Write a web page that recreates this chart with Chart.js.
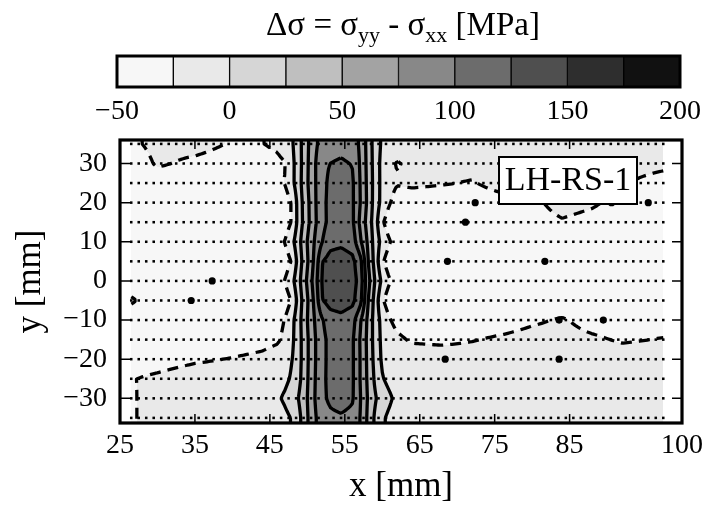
<!DOCTYPE html>
<html lang="en">
<head>
<meta charset="UTF-8">
<title>LH-RS-1 stress difference map</title>
<script src="https://cdn.jsdelivr.net/npm/chart.js"></script>
<style>
  body { margin: 0; background: #fff; }
  .wrap { position: relative; width: 709px; height: 508px; }
  .wrap canvas { position: absolute; left: 0; top: 0; }
</style>
</head>
<body>
<div class="wrap">
  <canvas id="map" width="709" height="508"></canvas>
  <canvas id="cb" width="709" height="130"></canvas>
</div>
<script>
  const fontFam = "'Liberation Serif', 'Times New Roman', serif";

  // colour scale: 25 MPa bands from -50 to 200
  const levelEdges = [-50, -25, 0, 25, 50, 75, 100, 125, 150, 175, 200];
  const levelGrays = ['#f7f7f7', '#e9e9e9', '#d6d6d6', '#bfbfbf', '#a3a3a3',
                      '#888888', '#6c6c6c', '#4f4f4f', '#2e2e2e', '#111111'];
  const cbTicks = [-50, 0, 50, 100, 150, 200];

  // contour lines (negative ones dashed)
  const contourLevels = [-25, 0, 25, 50, 75, 100, 125];

  // axes
  const xTicks = [25, 35, 45, 55, 65, 75, 85, 100];
  const yTicks = [-30, -20, -10, 0, 10, 20, 30];

  // estimated delta sigma [MPa] read from the map, rows = gridY, columns = gridX
  const gridX = [26.5, 30, 35, 40, 44, 46, 47, 48, 49, 50, 51, 52, 53, 54.5, 56,
                 57, 58, 59, 60, 61, 62, 64, 68, 72, 76, 80, 84, 88, 92, 97.5];
  const gridY = [35, 30, 25, 20, 15, 10, 5, 0, -5, -10, -15, -20, -25, -30, -35];
  const dsRows = [
    [-30, -18, -17, -27, -25.5, -21, -15, -2, 20, 46, 70, 84, 90, 93, 88, 72, 44, 14, -4, -14, -18, -16, -15, -16, -15, -15, -15, -16, -18, -22],
    [-40, -22, -30, -36, -34, -30, -26, -6, 19, 47, 73, 92, 100, 103, 99, 74, 45, 15, -8, -22, -26, -22, -20, -20, -18, -18, -16, -18, -20, -22],
    [-40, -38, -40, -40, -38, -33, -24, -6, 20, 48, 73, 91, 106, 112, 104, 76, 46, 16, -8, -20, -24, -22, -24, -26, -20, -20, -14, -17, -24, -30],
    [-40, -40, -40, -40, -38, -40, -38, -22, 16, 44, 72, 93, 107, 113, 104, 77, 47, 15, -8, -24, -32, -34, -34, -32, -30, -30, -17, -22, -32, -35],
    [-40, -40, -40, -40, -38, -40, -38, -22, 15, 43, 71, 92, 107, 114, 105, 72, 42, 12, -22, -38, -38, -37, -38, -36, -36, -34, -27, -32, -36, -38],
    [-40, -40, -40, -40, -38, -33, -24, -6, 22, 51, 77, 100, 117, 120, 114, 81, 49, 15, -8, -24, -32, -37, -38, -38, -38, -38, -38, -38, -38, -38],
    [-40, -40, -40, -40, -38, -40, -38, -22, 17, 47, 82, 124, 134, 137, 131, 112, 55, 17, -22, -38, -38, -37, -38, -38, -38, -38, -38, -38, -38, -38],
    [-38, -40, -40, -40, -38, -33, -24, -6, 23, 54, 88, 128, 137, 140, 134, 118, 63, 25, -6, -24, -33, -37, -38, -38, -38, -38, -38, -38, -38, -38],
    [-22, -38, -40, -40, -38, -40, -38, -22, 17, 47, 82, 124, 134, 137, 131, 112, 55, 17, -22, -38, -38, -37, -38, -38, -38, -38, -38, -38, -38, -38],
    [-38, -40, -40, -40, -38, -33, -24, -6, 21, 50, 76, 98, 114, 118, 111, 80, 48, 15, -8, -24, -30, -34, -36, -36, -34, -28, -23, -32, -35, -34],
    [-38, -38, -38, -36, -32, -28, -20, -4, 20, 47, 73, 93, 107, 113, 104, 75, 46, 16, -6, -18, -22, -27, -29, -26, -22, -18, -18, -22, -27, -24],
    [-36, -34, -28, -24, -20, -15, -12, 0, 20, 47, 73, 93, 107, 113, 104, 76, 47, 18, -4, -14, -18, -16, -15, -16, -15, -15, -16, -15, -16, -17],
    [-26, -21, -14, -13, -12, -10, -6, 4, 22, 48, 74, 94, 107, 113, 104, 76, 48, 22, 2, -8, -14, -13, -12, -13, -12, -12, -13, -12, -14, -14],
    [-28, -14, -12, -12, -10, -4, 4, 14, 28, 50, 75, 95, 104, 110, 103, 78, 50, 28, 14, 4, -8, -12, -12, -12, -12, -12, -12, -12, -12, -14],
    [-28, -14, -12, -12, -12, -12, -6, 2, 22, 48, 72, 88, 95, 97, 93, 76, 48, 22, 4, -6, -12, -13, -12, -12, -12, -12, -12, -12, -12, -14]
  ];

  // measurement grid
  const measX = [26.5, 27.5, 28.5, 29.5, 30.5, 31.5, 32.5, 33.5, 34.5, 35.5, 36.5, 37.5,
                 38.5, 39.5, 40.5, 41.5, 42.5, 43.5, 44.5, 45.5, 46.5, 47.5, 48.5, 49.5,
                 50.5, 51.5, 52.5, 53.5, 54.5, 55.5, 56.5, 57.5, 58.5, 59.5, 60.5, 61.5,
                 62.5, 63.5, 64.5, 65.5, 66.5, 67.5, 68.5, 69.5, 70.5, 71.5, 72.5, 73.5,
                 74.5, 75.5, 76.5, 77.5, 78.5, 79.5, 80.5, 81.5, 82.5, 83.5, 84.5, 85.5,
                 86.5, 87.5, 88.5, 89.5, 90.5, 91.5, 92.5, 93.5, 94.5, 95.5, 96.5, 97.5];
  const measY = [35, 30, 25, 20, 15, 10, 5, 0, -5, -10, -15, -20, -25, -30, -35];

  // single points above -25 MPa (tiny closed contours)
  const spotX = [37.3, 34.5, 72.4, 71.1, 68.7, 81.7, 90.6, 95.5, 83.6, 89.5, 83.6, 68.4];
  const spotY = [0, -5, 20, 15, 5, 5, 20, 20, -10, -10, -20, -20];

  const measPoints = [];
  measY.forEach(y => measX.forEach(x => measPoints.push({x, y})));
  const spots = spotX.map((x, i) => ({x, y: spotY[i]}));

  function fieldAt(x, y) {
    const n = gridX.length;
    if (x < gridX[0] || x > gridX[n - 1]) return null;
    let i = 0;
    while (i < n - 2 && x > gridX[i + 1]) i++;
    const tx = (x - gridX[i]) / (gridX[i + 1] - gridX[i]);
    const yc = Math.max(Math.min(y, gridY[0]), gridY[gridY.length - 1]);
    let j = 0;
    while (j < gridY.length - 2 && yc < gridY[j + 1]) j++;
    const ty = (gridY[j] - yc) / (gridY[j] - gridY[j + 1]);
    const r0 = dsRows[j], r1 = dsRows[j + 1];
    const a = r0[i] + (r0[i + 1] - r0[i]) * tx;
    const b = r1[i] + (r1[i + 1] - r1[i]) * tx;
    return a + (b - a) * ty;
  }

  // marching squares, segments chained into polylines
  function traceContours(G, nx, ny, level, toPx) {
    const pts = new Map(), adj = new Map(), segs = [];
    const edge = (key, i0, j0, i1, j1) => {
      if (!pts.has(key)) {
        const a = G[j0 * nx + i0], b = G[j1 * nx + i1];
        const t = (level - a) / (b - a);
        pts.set(key, toPx(i0 + (i1 - i0) * t, j0 + (j1 - j0) * t));
      }
      return key;
    };
    for (let j = 0; j < ny - 1; j++) {
      for (let i = 0; i < nx - 1; i++) {
        const tl = G[j * nx + i], tr = G[j * nx + i + 1];
        const br = G[(j + 1) * nx + i + 1], bl = G[(j + 1) * nx + i];
        const e = [];
        if ((tl >= level) !== (tr >= level)) e.push(edge('h' + i + '_' + j, i, j, i + 1, j));
        if ((tr >= level) !== (br >= level)) e.push(edge('v' + (i + 1) + '_' + j, i + 1, j, i + 1, j + 1));
        if ((bl >= level) !== (br >= level)) e.push(edge('h' + i + '_' + (j + 1), i, j + 1, i + 1, j + 1));
        if ((tl >= level) !== (bl >= level)) e.push(edge('v' + i + '_' + j, i, j, i, j + 1));
        if (e.length === 2) segs.push([e[0], e[1]]);
        else if (e.length === 4) {
          const c = (tl + tr + br + bl) / 4;
          if ((c >= level) === (tl >= level)) { segs.push([e[0], e[1]]); segs.push([e[2], e[3]]); }
          else { segs.push([e[0], e[3]]); segs.push([e[1], e[2]]); }
        }
      }
    }
    segs.forEach((s, k) => s.forEach(key => {
      if (!adj.has(key)) adj.set(key, []);
      adj.get(key).push(k);
    }));
    const used = new Array(segs.length).fill(false);
    const lines = [];
    const walk = (k, key) => {
      const line = [pts.get(key)];
      while (k !== undefined && !used[k]) {
        used[k] = true;
        key = segs[k][0] === key ? segs[k][1] : segs[k][0];
        line.push(pts.get(key));
        k = adj.get(key).find(m => !used[m]);
      }
      lines.push(line);
    };
    for (const [key, list] of adj) if (list.length === 1 && !used[list[0]]) walk(list[0], key);
    segs.forEach((s, k) => { if (!used[k]) walk(k, s[0]); });
    return lines;
  }

  const fieldPlugin = {
    id: 'field',
    beforeDatasetsDraw(chart) {
      const {ctx, chartArea: a, scales: {x: sx, y: sy}} = chart;
      const w = Math.round(a.right - a.left), h = Math.round(a.bottom - a.top);
      const off = document.createElement('canvas');
      off.width = w; off.height = h;
      const octx = off.getContext('2d');
      const img = octx.createImageData(w, h);
      const rgb = levelGrays.map(c => [1, 3, 5].map(p => parseInt(c.slice(p, p + 2), 16)));
      for (let py = 0; py < h; py++) {
        const y = sy.getValueForPixel(a.top + py + 0.5);
        for (let px = 0; px < w; px++) {
          const v = fieldAt(sx.getValueForPixel(a.left + px + 0.5), y);
          const k = (py * w + px) * 4;
          let col = [255, 255, 255];
          if (v !== null) {
            let b = 0;
            while (b < levelGrays.length - 1 && v >= levelEdges[b + 1]) b++;
            col = rgb[b];
          }
          img.data[k] = col[0]; img.data[k + 1] = col[1]; img.data[k + 2] = col[2]; img.data[k + 3] = 255;
        }
      }
      octx.putImageData(img, 0, 0);
      ctx.drawImage(off, a.left, a.top);

      // contour lines
      const px0 = sx.getPixelForValue(gridX[0]), px1 = sx.getPixelForValue(gridX[gridX.length - 1]);
      const step = 2;
      const nx = Math.ceil((px1 - px0) / step) + 1, ny = Math.ceil((a.bottom - a.top) / step) + 1;
      const dx = (px1 - px0) / (nx - 1), dy = (a.bottom - a.top) / (ny - 1);
      const G = new Float64Array(nx * ny);
      for (let j = 0; j < ny; j++) {
        const y = sy.getValueForPixel(a.top + j * dy);
        for (let i = 0; i < nx; i++) G[j * nx + i] = fieldAt(sx.getValueForPixel(px0 + i * dx), y);
      }
      const toPx = (fi, fj) => [px0 + fi * dx, a.top + fj * dy];
      ctx.save();
      ctx.beginPath();
      ctx.rect(a.left, a.top, a.right - a.left, a.bottom - a.top);
      ctx.clip();
      ctx.strokeStyle = '#000';
      ctx.lineWidth = 3.3;
      ctx.lineJoin = 'round';
      ctx.lineCap = 'butt';
      contourLevels.forEach(level => {
        ctx.setLineDash(level < 0 ? [11, 7] : []);
        traceContours(G, nx, ny, level, toPx).forEach(line => {
          if (line.length < 2) return;
          ctx.beginPath();
          ctx.moveTo(line[0][0], line[0][1]);
          for (let k = 1; k < line.length; k++) ctx.lineTo(line[k][0], line[k][1]);
          ctx.stroke();
        });
      });
      ctx.restore();
    },
    afterDatasetsDraw(chart) {
      const {ctx, chartArea: a} = chart;
      // sample label
      const bx = a.right - 183, by = a.top + 17, bw = 138, bh = 47;
      ctx.save();
      ctx.fillStyle = '#fff';
      ctx.fillRect(bx, by, bw, bh);
      ctx.strokeStyle = '#000';
      ctx.lineWidth = 2;
      ctx.strokeRect(bx, by, bw, bh);
      ctx.fillStyle = '#000';
      ctx.font = '34px ' + fontFam;
      ctx.textAlign = 'center';
      ctx.textBaseline = 'middle';
      ctx.fillText('LH-RS-1', bx + bw / 2, by + bh / 2 + 1);
      ctx.restore();
    },
    afterDraw(chart) {
      const {ctx, chartArea: a, scales: {x: sx, y: sy}} = chart;
      ctx.save();
      ctx.strokeStyle = '#000';
      ctx.lineWidth = 1.5;
      ctx.setLineDash([]);
      ctx.beginPath();
      xTicks.forEach(v => {
        const p = sx.getPixelForValue(v);
        ctx.moveTo(p, a.bottom); ctx.lineTo(p, a.bottom - 9);
        ctx.moveTo(p, a.top); ctx.lineTo(p, a.top + 9);
      });
      yTicks.forEach(v => {
        const p = sy.getPixelForValue(v);
        ctx.moveTo(a.left, p); ctx.lineTo(a.left + 10, p);
        ctx.moveTo(a.right, p); ctx.lineTo(a.right - 10, p);
      });
      ctx.stroke();
      ctx.lineWidth = 3.2;
      ctx.strokeRect(a.left, a.top, a.right - a.left, a.bottom - a.top);
      ctx.restore();
    }
  };

  const minus = v => String(v).replace('-', '\u2212');

  new Chart(document.getElementById('map'), {
    type: 'scatter',
    data: {
      datasets: [
        { label: 'measurement points', data: measPoints, pointStyle: 'rect', pointRadius: 1.8,
          pointBackgroundColor: '#000', pointBorderWidth: 0 },
        { label: 'local peaks', data: spots, pointRadius: 3.6,
          pointBackgroundColor: '#000', pointBorderWidth: 0 }
      ]
    },
    options: {
      responsive: false,
      animation: false,
      events: [],
      layout: { padding: { left: 0, right: 24, top: 140, bottom: 0 } },
      plugins: { legend: { display: false }, tooltip: { enabled: false } },
      scales: {
        x: {
          type: 'linear', min: 25, max: 100,
          afterBuildTicks: s => { s.ticks = xTicks.map(v => ({ value: v })); },
          afterFit: s => { s.height = 85; },
          grid: { display: false, drawTicks: false },
          border: { display: false },
          ticks: { color: '#000', font: { family: fontFam, size: 28 }, padding: 6, maxRotation: 0, autoSkip: false },
          title: { display: true, text: 'x [mm]', color: '#000', font: { family: fontFam, size: 35 },
                   padding: { top: 0, bottom: 0 } }
        },
        y: {
          type: 'linear', min: -36.3, max: 36,
          afterBuildTicks: s => { s.ticks = yTicks.map(v => ({ value: v })); },
          afterFit: s => { s.width = 120; },
          grid: { display: false, drawTicks: false },
          border: { display: false },
          ticks: { color: '#000', font: { family: fontFam, size: 28 }, padding: 13, callback: minus },
          title: { display: true, text: 'y [mm]', color: '#000', font: { family: fontFam, size: 35 },
                   padding: { top: 10, bottom: 0 } }
        }
      }
    },
    plugins: [fieldPlugin]
  });

  // colour bar with title
  const cbPlugin = {
    id: 'cbFrame',
    afterDraw(chart) {
      const {ctx, chartArea: a} = chart;
      ctx.save();
      ctx.strokeStyle = '#000';
      ctx.lineWidth = 3;
      ctx.strokeRect(a.left, a.top, a.right - a.left, a.bottom - a.top);
      const big = '33px ' + fontFam, small = '22px ' + fontFam;
      const parts = [['\u0394\u03c3 = \u03c3', big, 0], ['yy', small, 7], [' - \u03c3', big, 0],
                     ['xx', small, 7], [' [MPa]', big, 0]];
      let total = 0;
      parts.forEach(p => { ctx.font = p[1]; total += ctx.measureText(p[0]).width; });
      let x = 403 - total / 2;
      ctx.fillStyle = '#000';
      ctx.textBaseline = 'alphabetic';
      parts.forEach(p => {
        ctx.font = p[1];
        ctx.fillText(p[0], x, 35 + p[2]);
        x += ctx.measureText(p[0]).width;
      });
      ctx.restore();
    }
  };

  new Chart(document.getElementById('cb'), {
    type: 'bar',
    data: {
      labels: ['\u0394\u03c3'],
      datasets: levelGrays.map((c, i) => ({
        data: [[levelEdges[i], levelEdges[i + 1]]],
        backgroundColor: c, borderColor: '#000',
        borderWidth: { left: 1, right: 1, top: 0, bottom: 0 }, borderSkipped: false,
        barPercentage: 1, categoryPercentage: 1, grouped: false
      }))
    },
    options: {
      indexAxis: 'y',
      responsive: false,
      animation: false,
      events: [],
      layout: { padding: { left: 117, right: 23, top: 56, bottom: 0 } },
      plugins: { legend: { display: false }, tooltip: { enabled: false } },
      scales: {
        x: {
          type: 'linear', min: -50, max: 200,
          afterBuildTicks: s => { s.ticks = cbTicks.map(v => ({ value: v })); },
          afterFit: s => { s.height = 43; },
          grid: { display: false, drawTicks: false },
          border: { display: false },
          ticks: { color: '#000', font: { family: fontFam, size: 28 }, padding: 8, maxRotation: 0,
                   autoSkip: false, callback: minus }
        },
        y: { display: false }
      }
    },
    plugins: [cbPlugin]
  });
</script>
</body>
</html>
